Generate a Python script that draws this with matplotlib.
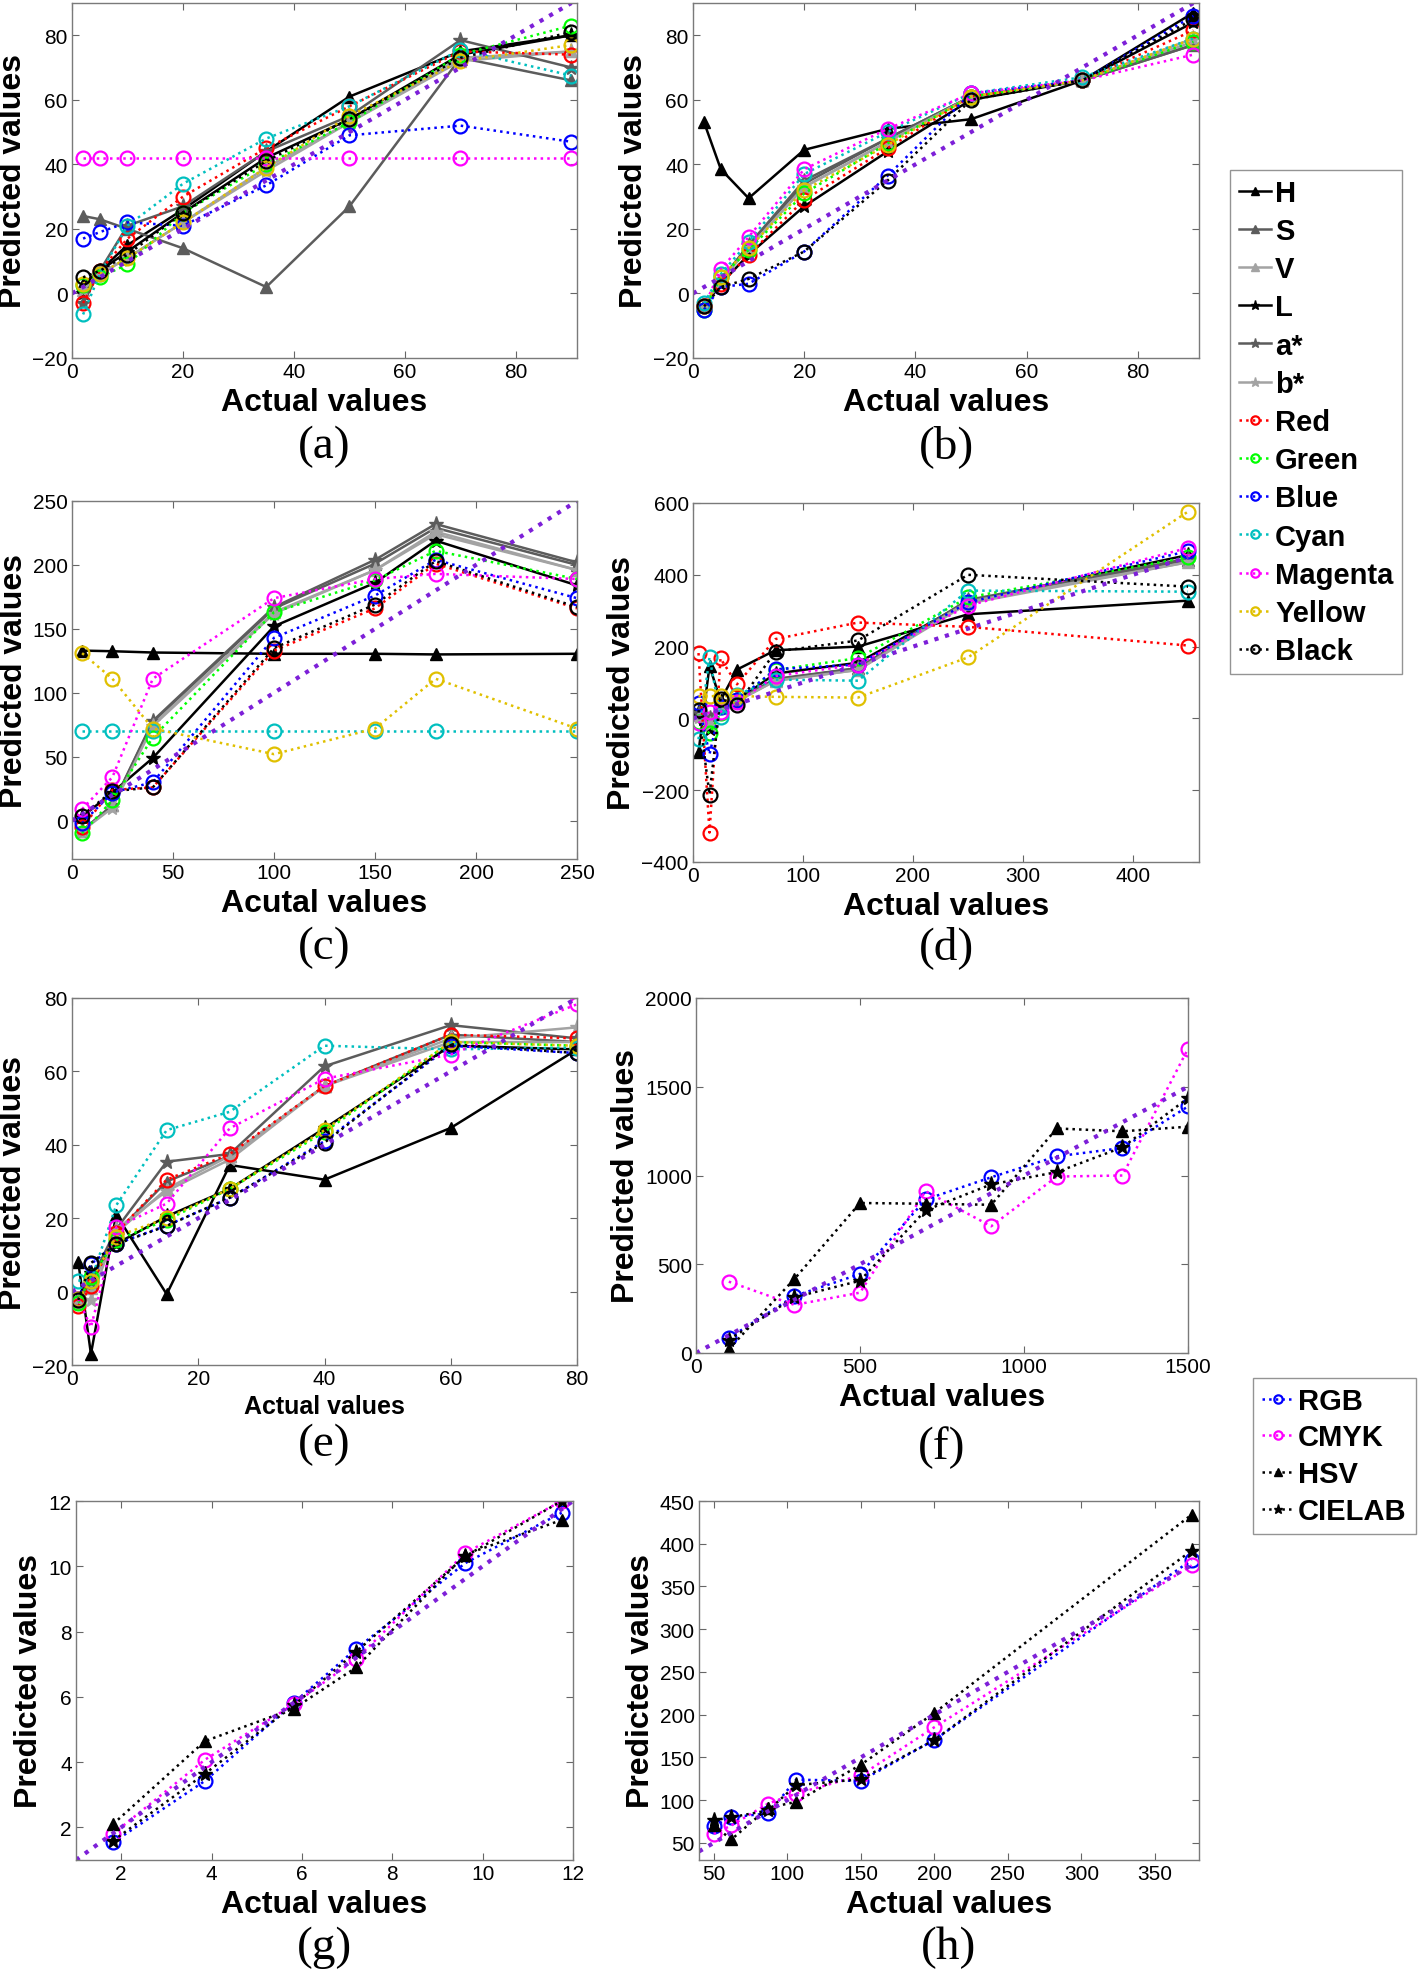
import matplotlib
matplotlib.use("Agg")
import matplotlib.pyplot as plt

plt.rcParams['font.family'] = ['Liberation Sans', 'DejaVu Sans']

# ---- datos de los paneles (a)-(e): 13 series de color ----
nombres = ['H', 'S', 'V', 'L', 'a*', 'b*', 'Red', 'Green', 'Blue', 'Cyan', 'Magenta', 'Yellow', 'Black']

x_a = [2, 5, 10, 20, 35, 50, 70, 90]
y_a = [
    [3, 7, 15, 26, 44, 61, 75, 80],
    [24, 23, 20, 14, 2, 27, 73, 66],
    [1, 6, 11, 22, 39, 53, 72, 75],
    [0, 7, 13, 25, 42, 54, 74, 80],
    [-3, 7, 21, 27, 44, 55, 78.5, 70],
    [1, 6, 11, 22, 38, 53, 73, 75],
    [-3, 7, 17, 30, 45, 58, 75, 74],
    [2.5, 5, 9, 25, 40, 53, 74, 83],
    [17, 19, 22, 21, 33.5, 49, 52, 47],
    [-6.5, 6, 21, 34, 48, 58, 75.5, 67.5],
    [42, 42, 42, 42, 42, 42, 42, 42],
    [3, 6, 11, 22, 39, 55, 72, 77],
    [5, 7, 12, 25, 41, 54, 73, 81],
]

x_b = [2, 5, 10, 20, 35, 50, 70, 90]
y_b = [
    [53, 38.5, 29.5, 44.5, 51, 54, 66, 87],
    [-4, 4, 15, 34, 48, 61, 66, 77],
    [-4, 4, 14, 33, 47, 61, 66, 78],
    [-4, 3, 12, 27, 44, 60, 66, 84],
    [-4, 4, 15, 35, 48, 61, 66, 77],
    [-4, 4, 14, 33, 47, 61, 66, 79],
    [-4, 3, 12, 29, 45, 61, 66, 81.5],
    [-5, 5, 13.5, 31, 46.5, 61, 66, 78],
    [-5, 2, 3, 13, 36.5, 62, 66, 86],
    [-3, 6, 16, 37, 50, 62, 67, 79],
    [-4, 7.5, 17.5, 38.5, 51, 62, 66, 74],
    [-4, 5, 14, 32, 46, 61, 66, 79],
    [-4, 2, 4.5, 13, 35, 60, 66, 85],
]

x_c = [5, 20, 40, 100, 150, 180, 250]
y_c = [
    [133, 132.5, 131.5, 130.5, 130.5, 130, 130.5],
    [-8, 12, 77, 166, 201, 229, 200],
    [-8, 12, 75, 163, 196, 224, 196],
    [3, 22, 49, 152, 186, 219, 184],
    [-8, 12, 78, 167, 204, 232, 202],
    [-8, 10, 74, 162, 196, 226, 196],
    [-5, 24, 26, 133, 166, 201, 166],
    [-10, 16, 65, 163, 188, 211, 189],
    [-2, 22, 30, 143, 176, 204, 174],
    [70, 70, 70, 70, 70, 70, 70],
    [9, 34, 111, 174, 189, 193, 189],
    [131, 111, 72, 52, 72, 111, 72],
    [4, 23, 26, 135, 169, 203, 167],
]

x_d = [5, 15, 25, 40, 75, 150, 250, 450]
y_d = [
    [-94, 146, 50, 136, 190, 200, 290, 328],
    [15, -5, 35, 50, 108, 140, 325, 440],
    [10, -10, 30, 48, 105, 135, 320, 435],
    [20, -30, 45, 50, 125, 155, 325, 455],
    [15, 0, 40, 52, 110, 140, 330, 445],
    [5, -15, 30, 48, 105, 135, 325, 435],
    [182, -318, 167, 95, 221, 267, 255, 203],
    [-10, -42, 14, 50, 135, 168, 337, 449],
    [42, -100, 33, 50, 137, 150, 323, 466],
    [-58, 170, 5, 66, 108, 105, 356, 353],
    [-14, 18, 18, 45, 118, 150, 314, 475],
    [62, 62, 62, 62, 60, 58, 170, 576],
    [23, -212, 55, 37, 186, 217, 400, 367],
]

x_e = [1, 3, 7, 15, 25, 40, 60, 80]
y_e = [
    [8, -17, 21, -0.7, 34.5, 30.5, 44.6, 66],
    [-3, 2, 16, 30, 37, 56, 70, 68],
    [-3, 1, 16, 28, 37, 56, 68, 68],
    [-2, 5, 13, 20.5, 28, 44.5, 67, 66],
    [-2, 3, 17, 35.4, 37.5, 61.4, 72.6, 69],
    [-2, -2.3, 17, 27.4, 36, 56, 69, 72],
    [-4, 1.5, 16, 30.5, 37.5, 56, 70, 69],
    [-3, 4, 14, 19.5, 28, 43.5, 68, 67],
    [-2, 7.5, 13, 18, 25.5, 41, 67, 65],
    [3, 3, 23.5, 44, 49, 67, 66, 66.5],
    [-2, -9.7, 17.5, 24, 44.5, 58, 64.6, 78.3],
    [-2, 3, 15, 20, 28, 44, 68, 67],
    [-2.3, 7.8, 12.9, 17.9, 25.6, 40.6, 67.4, 65],
]

# ---- datos de los paneles (f)-(h): 4 espacios de color ----
nombres2 = ['RGB', 'CMYK', 'HSV', 'CIELAB']

x_f = [100, 300, 500, 700, 900, 1100, 1300, 1500]
y_f = [
    [84, 321, 445, 865, 990, 1108, 1155, 1389],
    [402, 271, 340, 912, 714, 994, 1000, 1714],
    [22, 417, 845, 841, 835, 1265, 1249, 1275],
    [75, 314, 407, 804, 950, 1019, 1159, 1436],
]

x_g = [1.82, 3.85, 5.82, 7.2, 9.62, 11.75]
y_g = [
    [1.54, 3.42, 5.82, 7.47, 10.1, 11.64],
    [1.8, 4.07, 5.77, 7.16, 10.41, 12.0],
    [2.1, 4.64, 5.64, 6.9, 10.36, 11.42],
    [1.59, 3.64, 5.74, 7.38, 10.31, 12.0],
]

x_h = [50, 62, 87, 106, 150, 200, 375]
y_h = [
    [69.6, 80, 84.5, 124, 122.5, 170.4, 381],
    [60.6, 70.4, 96, 107.6, 129, 185.3, 374.7],
    [70.4, 54, 91, 98, 141.4, 202, 434],
    [76.3, 80, 88, 117.5, 124.5, 170.4, 392],
]

# linea identidad (y = x) de cada panel
ident_a = [0, 90]
ident_b = [0, 90]
ident_c = [0, 250]
ident_d = [0, 450]
ident_e = [0, 80]
ident_f = [0, 1500]
ident_g = [1, 12]
ident_h = [40, 375]

# ---- estilos ----
gris_osc = '#5c5c5c'
gris_cla = '#a3a3a3'
estilos = [
    ('k', '-', '^'), (gris_osc, '-', '^'), (gris_cla, '-', '^'),
    ('k', '-', '*'), (gris_osc, '-', '*'), (gris_cla, '-', '*'),
    ('#ff0000', ':', 'o'), ('#00ff00', ':', 'o'), ('#0000ff', ':', 'o'),
    ('#00bfbf', ':', 'o'), ('#ff00ff', ':', 'o'), ('#e0c000', ':', 'o'),
    ('#000000', ':', 'o'),
]
estilos2 = [('#0000ff', ':', 'o'), ('#ff00ff', ':', 'o'), ('k', ':', '^'), ('k', ':', '*')]
morado = '#7d1fd8'

W, H = 1418, 1974
fig = plt.figure(figsize=(W / 100, H / 100), dpi=100)


def nuevo_ax(l, t, r, b):
    return fig.add_axes([l / W, 1 - b / H, (r - l) / W, (b - t) / H])


def dibujar(ax, x, ys, sts, ident, xlim, ylim, xt, yt, xlabel, xl_size, tag, tag_y):
    lineas = []
    for y, (col, ls, mk) in zip(ys, sts):
        if mk == 'o':
            ln, = ax.plot(x, y, ls=ls, color=col, lw=1.8, marker='o', ms=10,
                          mfc='none', mec=col, mew=1.6)
        elif mk == '^':
            ln, = ax.plot(x, y, ls=ls, color=col, lw=1.8, marker='^', ms=9,
                          mfc=col, mec=col)
        else:
            ln, = ax.plot(x, y, ls=ls, color=col, lw=1.8, marker='*', ms=11,
                          mfc=col, mec=col)
        lineas.append(ln)
    ax.plot(ident, ident, ls=':', color=morado, lw=3)
    ax.set_xlim(xlim)
    ax.set_ylim(ylim)
    ax.set_xticks(xt)
    ax.set_yticks(yt)
    ax.tick_params(direction='in', top=True, right=True, length=5, width=0.8,
                   color='#666666', labelsize=15, pad=3)
    for s in ax.spines.values():
        s.set_color('#7a7a7a')
        s.set_linewidth(1)
    ax.set_ylabel('Predicted values', fontsize=23, fontweight='bold', labelpad=3)
    ax.set_xlabel(xlabel, fontsize=xl_size, fontweight='bold', labelpad=4)
    pos = ax.get_position()
    fig.text((pos.x0 + pos.x1) / 2, 1 - tag_y / H, tag, family=['Liberation Serif', 'DejaVu Serif'],
             fontsize=34, ha='center', va='center')
    return lineas


ax_a = nuevo_ax(72, 4, 577, 359)
lin = dibujar(ax_a, x_a, y_a, estilos, ident_a, (0, 91), (-20, 90), range(0, 81, 20),
              range(-20, 81, 20), 'Actual values', 23, '(a)', 447)
ax_b = nuevo_ax(693, 4, 1199, 359)
dibujar(ax_b, x_b, y_b, estilos, ident_b, (0, 91), (-20, 90), range(0, 81, 20),
        range(-20, 81, 20), 'Actual values', 23, '(b)', 447)
ax_c = nuevo_ax(72, 502, 577, 860)
dibujar(ax_c, x_c, y_c, estilos, ident_c, (0, 250), (-30, 250), range(0, 251, 50),
        range(0, 251, 50), 'Acutal values', 23, '(c)', 948)
ax_d = nuevo_ax(693, 504, 1199, 863)
dibujar(ax_d, x_d, y_d, estilos, ident_d, (0, 460), (-400, 600), range(0, 401, 100),
        range(-400, 601, 200), 'Actual values', 23, '(d)', 948)
ax_e = nuevo_ax(72, 999, 577, 1366)
dibujar(ax_e, x_e, y_e, estilos, ident_e, (0, 80), (-20, 80), range(0, 81, 20),
        range(-20, 81, 20), 'Actual values', 18, '(e)', 1445)
ax_f = nuevo_ax(696, 999, 1188, 1354)
lin2 = dibujar(ax_f, x_f, y_f, estilos2, ident_f, (0, 1500), (0, 2000), range(0, 1501, 500),
               range(0, 2001, 500), 'Actual values', 23, '(f)', 1448)
ax_g = nuevo_ax(76, 1502, 573, 1861)
dibujar(ax_g, x_g, y_g, estilos2, ident_g, (1, 12), (1, 12), range(2, 13, 2),
        range(2, 13, 2), 'Actual values', 23, '(g)', 1948)
ax_h = nuevo_ax(699, 1502, 1199, 1861)
dibujar(ax_h, x_h, y_h, estilos2, ident_h, (40, 380), (30, 450), range(50, 351, 50),
        range(50, 451, 50), 'Actual values', 23, '(h)', 1948)

ley1 = fig.legend(lin, nombres, loc='upper left', bbox_to_anchor=(1230 / W, 1 - 171 / H),
                  prop={'weight': 'bold', 'size': 21}, frameon=True, fancybox=False,
                  edgecolor='#7a7a7a', handlelength=1.1, handletextpad=0.15,
                  labelspacing=0.35, borderpad=0.3, markerscale=0.6, borderaxespad=0)
ley1.get_frame().set_linewidth(1)
ley2 = fig.legend(lin2, nombres2, loc='upper left', bbox_to_anchor=(1253 / W, 1 - 1379 / H),
                  prop={'weight': 'bold', 'size': 21}, frameon=True, fancybox=False,
                  edgecolor='#7a7a7a', handlelength=1.1, handletextpad=0.15,
                  labelspacing=0.3, borderpad=0.3, markerscale=0.6, borderaxespad=0)
ley2.get_frame().set_linewidth(1)

fig.savefig('out.png', dpi=100, facecolor='white')
plt.close(fig)
